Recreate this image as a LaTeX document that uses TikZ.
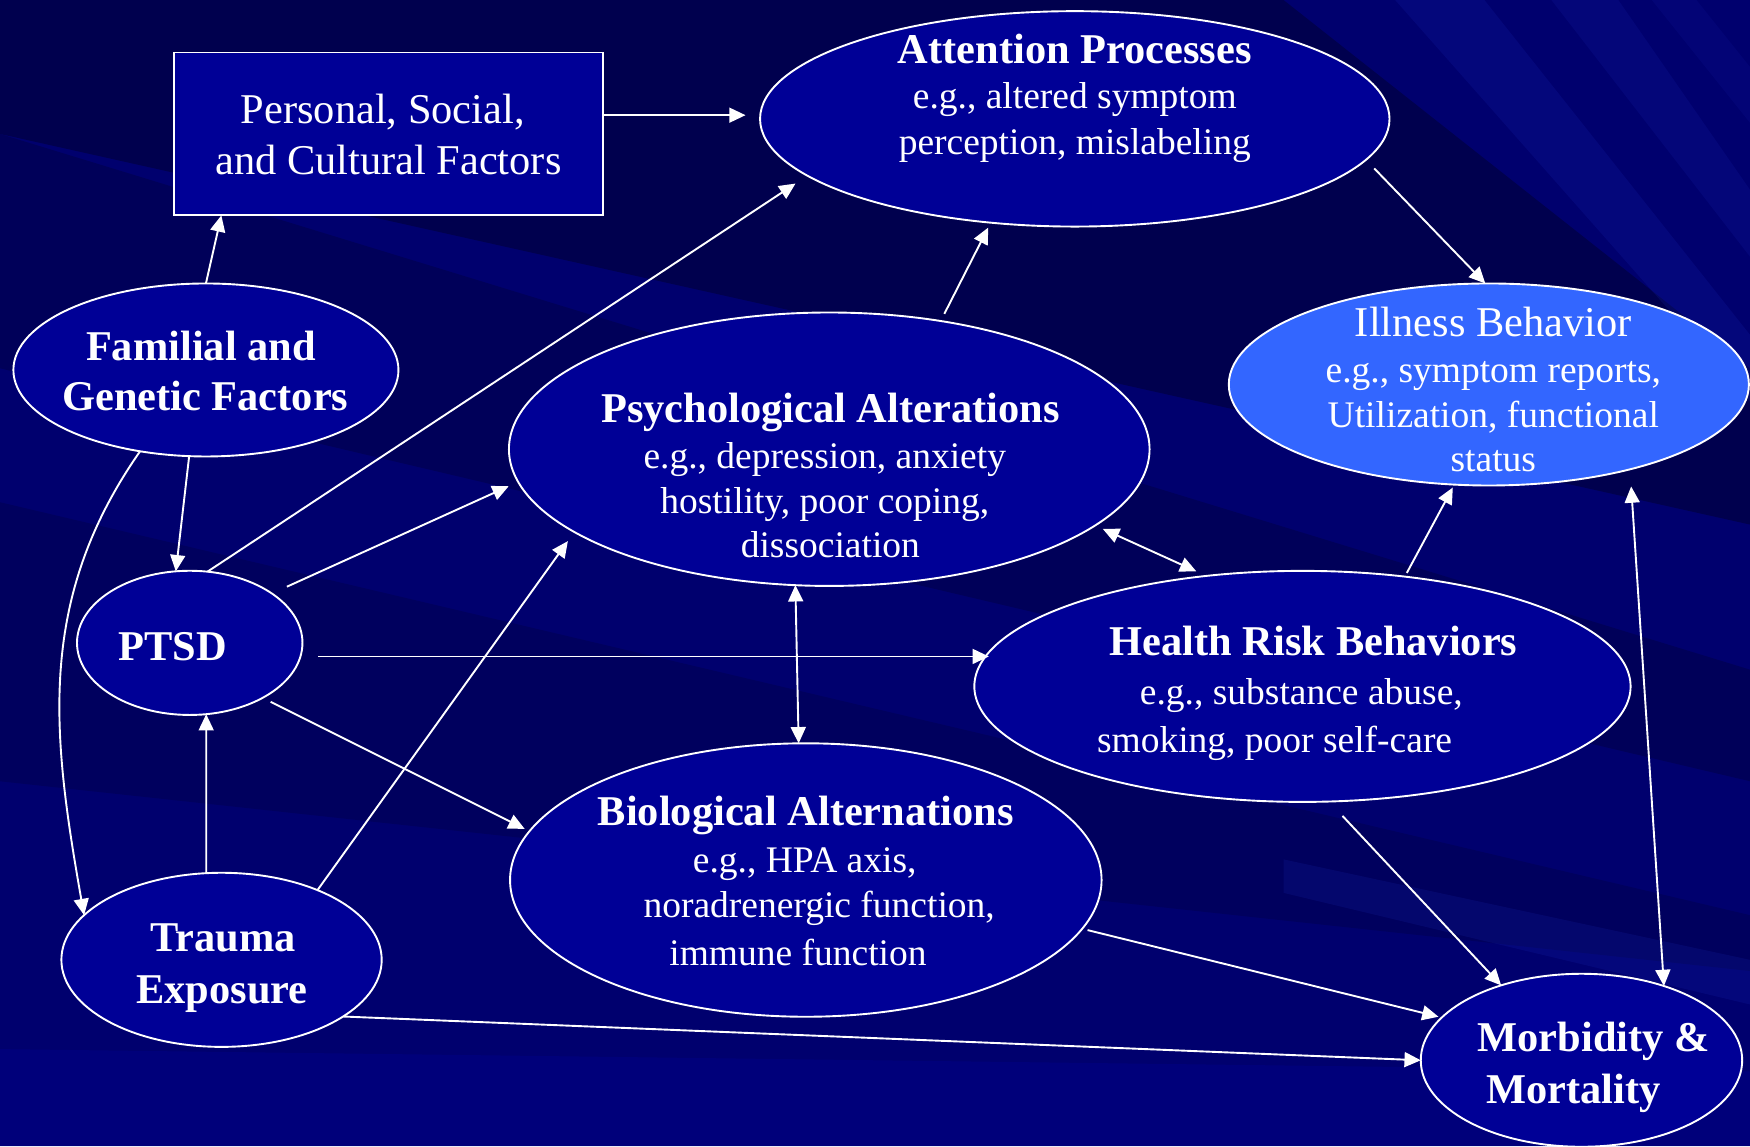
\documentclass[tikz,border=0pt]{standalone}
\usepackage{fontspec}
\setmainfont{Liberation Serif}
\usetikzlibrary{arrows.meta,shapes.geometric,calc}
\definecolor{bgbase}{RGB}{0,0,110}
\definecolor{bgdark}{RGB}{0,0,70}
\definecolor{bgbottom}{RGB}{0,0,128}
\definecolor{bglight}{RGB}{40,60,220}
\definecolor{ellfill}{RGB}{0,0,150}
\definecolor{illfill}{RGB}{51,102,255}
\tikzset{
  ell/.style={ellipse, draw=white, line width=0.85pt, fill=ellfill, inner sep=0pt, outer sep=0pt},
  conn/.style={draw=white, line width=0.85pt, -{Triangle[length=7.3pt,width=6.7pt]}},
  connb/.style={draw=white, line width=0.85pt, {Triangle[length=7.3pt,width=6.7pt]}-{Triangle[length=7.3pt,width=6.7pt]}},
  lab/.style={text=white, anchor=base, inner sep=0pt, font=\fontsize{19}{22}\selectfont},
  labb/.style={lab, font=\fontsize{19}{22}\selectfont\bfseries},
  labs/.style={lab, font=\fontsize{16.8}{20}\selectfont},
}
\begin{document}
\begin{tikzpicture}[x=0.5pt,y=-0.5pt]
\useasboundingbox (0,0) rectangle (1568,1027);
% background
\fill[bgbase] (0,0) rectangle (1568,1027);
\fill[bgdark, opacity=0.8] (0,0) -- (1150,0) -- (1568,330) -- (1568,470) -- (0,120) -- cycle;
\fill[bgdark, opacity=0.5] (0,120) -- (1568,600) -- (1568,700) -- (0,330) -- cycle;
\fill[bgdark, opacity=0.4] (0,450) -- (1568,820) -- (1568,870) -- (0,700) -- cycle;
\fill[bglight, opacity=0.12] (1250,0) -- (1330,0) -- (1568,300) -- (1568,360) -- cycle;
\fill[bglight, opacity=0.10] (1390,0) -- (1450,0) -- (1568,170) -- (1568,230) -- cycle;
\fill[bglight, opacity=0.08] (1480,0) -- (1520,0) -- (1568,60) -- (1568,110) -- cycle;
\fill[bglight, opacity=0.12] (1150,770) -- (1568,860) -- (1568,900) -- (1150,800) -- cycle;
\fill[bgbottom, opacity=0.7] (0,940) -- (1568,960) -- (1568,1027) -- (0,1027) -- cycle;

% nodes
\node[draw=white, line width=0.85pt, fill=ellfill, inner sep=0pt, outer sep=0pt,
      minimum width=192pt, minimum height=73pt] (pers) at (348,120) {};
\node[ell, minimum width=282pt, minimum height=96.5pt] (att) at (963,106.5) {};
\node[ell, fill=illfill, minimum width=233pt, minimum height=90.5pt] (ill) at (1334,344.5) {};
\node[ell, minimum width=172.5pt, minimum height=77.5pt] (fam) at (184.5,331.5) {};
\node[ell, minimum width=287pt, minimum height=122.5pt] (psy) at (743,402.5) {};
\node[ell, minimum width=101pt, minimum height=64.6pt] (ptsd) at (170,576) {};
\node[ell, minimum width=294pt, minimum height=103.5pt] (health) at (1167,615) {};
\node[ell, minimum width=265pt, minimum height=122.5pt] (bio) at (722,788.5) {};
\node[ell, minimum width=143.5pt, minimum height=78pt] (trauma) at (198.5,860) {};
\node[ell, minimum width=144pt, minimum height=77.5pt] (morb) at (1417,950) {};

% texts
\node[lab] (persA) at (343,111) {Personal, Social,};
\node[lab] (persB) at (348,156.8) {and Cultural Factors};
\node[labb] (attA) at (963,57) {Attention Processes};
\node[labs] (attB) at (963,97.6) {e.g., altered symptom};
\node[labs] (attC) at (963,138) {perception, mislabeling};
\node[lab] (illA) at (1338,301.5) {Illness Behavior};
\node[labs] (illB) at (1338,342.4) {e.g., symptom reports,};
\node[labs] (illC) at (1338,383) {Utilization, functional};
\node[labs] (illD) at (1338,422.4) {status};
\node[labb] (famA) at (180,323) {Familial and};
\node[labb] (famB) at (184,368) {Genetic Factors};
\node[labb] (psyA) at (744,379) {Psychological Alterations};
\node[labs] (psyB) at (739,420) {e.g., depression, anxiety};
\node[labs] (psyC) at (739,460) {hostility, poor coping,};
\node[labs] (psyD) at (744,499.7) {dissociation};
\node[labb] (ptsdA) at (155,592) {PTSD};
\node[labb] (healthA) at (1177,587.6) {Health Risk Behaviors};
\node[labs] (healthB) at (1166,630.8) {e.g., substance abuse,};
\node[labs] (healthC) at (1142,674) {smoking, poor self-care};
\node[labb] (bioA) at (722,739.7) {Biological Alternations};
\node[labs] (bioB) at (721,782) {e.g., HPA axis,};
\node[labs] (bioC) at (734,821.7) {noradrenergic function,};
\node[labs] (bioD) at (715,865.3) {immune function};
\node[labb] (traumaA) at (200,852.4) {Trauma};
\node[labb] (traumaB) at (199,899.2) {Exposure};
\node[labb] (morbA) at (1428,942) {Morbidity \&};
\node[labb] (morbB) at (1410,989) {Mortality};

% connectors
\draw[conn, shorten >=6.5pt] (pers.5.65) -- (pers.5.65 -| att.west);
\draw[conn] (fam.north) -- (pers.206);
\draw[conn] (fam.259) -- (ptsd.101);
\draw[conn] (fam.231) to[out=235, in=100] (trauma.162);
\draw[conn, shorten >=6.4pt] (ptsd.76.8) -- (att.192.2);
\draw[conn, shorten <=7.4pt, shorten >=4.7pt] (ptsd.31.8) -- (psy.186.1);
\draw[conn, shorten <=8pt, shorten >=-6.5pt] (ptsd.-7.5) -- (ptsd.-7.5 -| health.west);
\draw[conn, shorten <=4pt, shorten >=2.4pt] (ptsd.-37.3) -- (bio.170.06);
\draw[conn] (trauma.100.6) -- (ptsd.-77.7);
\draw[conn, shorten >=5pt] (trauma.36.4) -- (psy.198.85);
\draw[conn] (trauma.-25.45) -- (morb.west);
\draw[conn, shorten <=3.6pt, shorten >=2.5pt] (psy.49.76) -- (att.231.3);
\draw[conn, shorten <=5.4pt] (att.-8.29) -- (ill.92);
\draw[connb, shorten <=3.8pt, shorten >=5pt] (psy.-16.03) -- (health.131);
\draw[connb] (psy.256.6) -- (bio.93.7);
\draw[conn, shorten <=1.9pt, shorten >=1.5pt] (health.47.9) -- (ill.251.3);
\draw[connb, shorten <=7.7pt] (ill.-31.13) -- (morb.42.5);
\draw[conn, shorten <=8.8pt] (health.-77.4) -- (morb.137.4);
\draw[conn, shorten <=2.5pt, shorten >=1.5pt] (bio.-10.43) -- (morb.163.5);
\end{tikzpicture}
\end{document}
